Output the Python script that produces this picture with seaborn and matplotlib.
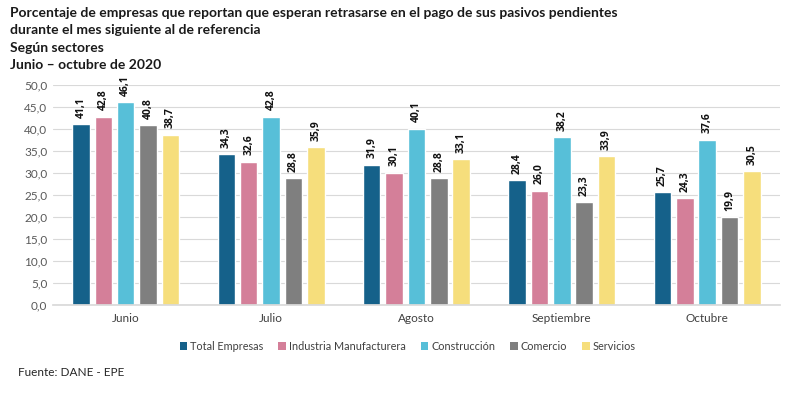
import matplotlib
matplotlib.use("Agg")
import matplotlib.pyplot as plt
import seaborn as sns
import pandas as pd

months = ["Junio", "Julio", "Agosto", "Septiembre", "Octubre"]
sectors = ["Total Empresas", "Industria Manufacturera", "Construcción", "Comercio", "Servicios"]
total = [41.1, 34.3, 31.9, 28.4, 25.7]
industria = [42.8, 32.6, 30.1, 26.0, 24.3]
construccion = [46.1, 42.8, 40.1, 38.2, 37.6]
comercio = [40.8, 28.8, 28.8, 23.3, 19.9]
servicios = [38.7, 35.9, 33.1, 33.9, 30.5]
colors = ["#15618A", "#D47F99", "#57BFD8", "#7F7F7F", "#F6DE7C"]

series = [total, industria, construccion, comercio, servicios]
rows = []
for s, vals in zip(sectors, series):
    for m, v in zip(months, vals):
        rows.append({"Mes": m, "Sector": s, "Valor": v})
df = pd.DataFrame(rows)

sns.set_theme(style="white")
plt.rcParams["font.family"] = ["Lato", "DejaVu Sans"]

fig = plt.figure(figsize=(7.87, 4.20), dpi=100)
ax = fig.add_axes([0.0673, 0.2738, 0.9237, 0.5238])

sns.barplot(data=df, x="Mes", y="Valor", hue="Sector", order=months, hue_order=sectors,
            palette=colors, width=0.77, gap=0.22, ax=ax, legend=False, saturation=1)

for cont in ax.containers:
    labels = [f"{b.get_height():.1f}".replace(".", ",") for b in cont]
    ax.bar_label(cont, labels=labels, rotation=90, padding=4.5, fontsize=7.5,
                 fontweight="bold", family=["Open Sans", "DejaVu Sans"], color="#111111")

ax.set_ylim(0, 50)
ax.set_xlim(-0.5, 4.5)
ax.set_yticks([i * 5 for i in range(11)])
ax.set_yticklabels([f"{i*5:.1f}".replace(".", ",") for i in range(11)])
ax.yaxis.grid(True, color="#D9D9D9", linewidth=0.8)
ax.set_axisbelow(True)
for sp in ["top", "right", "left"]:
    ax.spines[sp].set_visible(False)
ax.spines["bottom"].set_color("#D9D9D9")
ax.tick_params(axis="y", labelsize=8.5, labelcolor="#595959", length=0, pad=4)
ax.tick_params(axis="x", labelsize=8.5, labelcolor="#404040", length=0, pad=6)
ax.set_xlabel("")
ax.set_ylabel("")

from matplotlib.patches import Patch
handles = [Patch(facecolor=c, edgecolor="none") for c in colors]
fig.legend(handles, sectors, loc="center", bbox_to_anchor=(0.518, 0.176), ncol=5,
           frameon=False, fontsize=7.8, handlelength=0.7, handleheight=0.7,
           handletextpad=0.3, columnspacing=1.35, labelcolor="#404040")

title_lines = ["Porcentaje de empresas que reportan que esperan retrasarse en el pago de sus pasivos pendientes",
               "durante el mes siguiente al de referencia",
               "Según sectores",
               "Junio – octubre de 2020"]
for i, t in enumerate(title_lines):
    fig.text(10 / 787, 1 - (13 + i * 17.3) / 420, t, fontsize=10, fontweight="bold",
             color="#1a1a1a", va="center", ha="left")

fig.text(18 / 787, 1 - 372 / 420, "Fuente: DANE - EPE", fontsize=8.5, color="#262626",
         va="center", ha="left")

fig.savefig("out.png", dpi=100)
